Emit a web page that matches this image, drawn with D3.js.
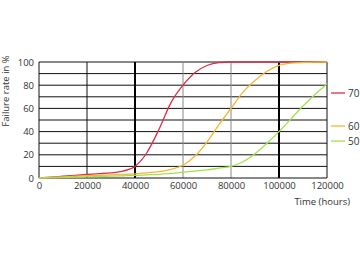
<!DOCTYPE html>
<html>
<head>
<meta charset="utf-8">
<script src="https://cdn.jsdelivr.net/npm/d3@7"></script>
<style>
  body { margin: 0; background: #fff; }
  text { font-family: "Open Sans", sans-serif; fill: #333; }
</style>
</head>
<body>
<svg id="chart" width="360" height="262"></svg>
<script>
const hours = [0, 5000, 10000, 15000, 20000, 25000, 30000, 35000, 40000, 45000, 50000, 55000, 60000,
  65000, 70000, 75000, 80000, 85000, 90000, 95000, 100000, 105000, 110000, 115000, 120000]
const rate70 = [0, 0.8, 1.5, 2.2, 3, 3.7, 4.5, 6, 10, 22, 42, 65, 80, 91, 97, 99.5, 100, 100, 100, 100, 100, 100, 100, 100, 100]
const rate60 = [0, 0.5, 1, 1.5, 2, 2.3, 2.7, 3, 3.5, 4.5, 5.5, 7.5, 11, 19, 31, 46, 60, 74, 84, 92, 97, 99, 99.6, 99.9, 100]
const rate50 = [0, 0.25, 0.5, 0.75, 1, 1.3, 1.6, 1.9, 2.2, 2.7, 3.2, 4, 5, 6, 7, 8.5, 10, 14, 21, 30, 40, 51, 62, 72, 81]
const seriesNames = ['70', '60', '50']
const seriesColors = ['#d9304a', '#f6b632', '#a5e04c']
const xTicks = [0, 20000, 40000, 60000, 80000, 100000, 120000]
const yTicks = [0, 20, 40, 60, 80, 100]
const hLines = [10, 20, 30, 40, 50, 60, 70, 80, 90, 100]

const margin = { left: 39, top: 62, right: 33, bottom: 84 }
const width = 360 - margin.left - margin.right
const height = 262 - margin.top - margin.bottom

const svg = d3.select('#chart')
const g = svg.append('g').attr('transform', `translate(${margin.left},${margin.top})`)

const x = d3.scaleLinear().domain([0, 120000]).range([0, width])
const y = d3.scaleLinear().domain([0, 100]).range([height, 0])

// horizontal grid
g.selectAll('.hline').data(hLines).enter().append('line')
  .attr('x1', 0).attr('x2', width)
  .attr('y1', d => y(d)).attr('y2', d => y(d))
  .attr('stroke', '#111').attr('stroke-width', 1)

// vertical grid, some lines heavier / lighter
const vStyle = { 0: ['#111', 1], 20000: ['#111', 1], 40000: ['#000', 2], 60000: ['#888', 1],
  80000: ['#888', 1], 100000: ['#000', 2], 120000: ['#111', 1] }
g.selectAll('.vline').data(xTicks).enter().append('line')
  .attr('x1', d => x(d)).attr('x2', d => x(d))
  .attr('y1', 0).attr('y2', height)
  .attr('stroke', d => vStyle[d][0]).attr('stroke-width', d => vStyle[d][1])

g.append('line').attr('x1', 0).attr('x2', width).attr('y1', height).attr('y2', height)
  .attr('stroke', '#111')

const xAxis = d3.axisBottom(x).tickValues(xTicks).tickSize(0).tickPadding(4).tickFormat(d3.format('d'))
const yAxis = d3.axisLeft(y).tickValues(yTicks).tickSize(0).tickPadding(5)
const xg = g.append('g').attr('transform', `translate(0,${height})`).call(xAxis)
const yg = g.append('g').call(yAxis)
xg.select('.domain').remove()
yg.select('.domain').remove()
svg.selectAll('.tick text').style('font-size', '9.5px').style('font-family', '"Open Sans", sans-serif').attr('fill', '#333')

const line = d3.line()
  .x((d, i) => x(hours[i]))
  .y(d => y(d))
  .curve(d3.curveMonotoneX)

const allRates = [rate70, rate60, rate50]
allRates.forEach((r, i) => {
  g.append('path').datum(r)
    .attr('d', line)
    .attr('fill', 'none')
    .attr('stroke', seriesColors[i])
    .attr('stroke-width', 1.3)
})

// legend
const legendY = [93, 126, 141]
seriesNames.forEach((name, i) => {
  svg.append('line')
    .attr('x1', 331).attr('x2', 345)
    .attr('y1', legendY[i]).attr('y2', legendY[i])
    .attr('stroke', seriesColors[i]).attr('stroke-width', 1.3)
  svg.append('text')
    .attr('x', 348).attr('y', legendY[i] + 3.5)
    .style('font-size', '10px')
    .text(name)
})

svg.append('text')
  .attr('transform', 'translate(9,91) rotate(-90)')
  .attr('text-anchor', 'middle')
  .style('font-size', '9.5px')
  .text('Failure rate in %')

svg.append('text')
  .attr('x', 350).attr('y', 205)
  .attr('text-anchor', 'end')
  .style('font-size', '9.5px')
  .text('Time (hours)')
</script>
</body>
</html>
